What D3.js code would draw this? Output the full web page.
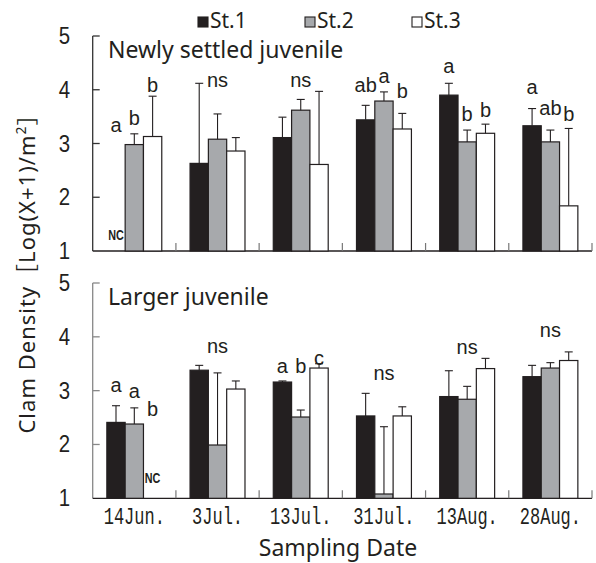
<!DOCTYPE html>
<html><head><meta charset="utf-8">
<script src="https://cdn.jsdelivr.net/npm/d3@7"></script>
<style>body{margin:0;background:#fff}svg{display:block}</style>
</head><body>
<svg id="c" width="596" height="563"></svg>
<script>
// ---------- data ----------
const dates = ["14Jun.", "3Jul.", "13Jul.", "31Jul.", "13Aug.", "28Aug."];
const stations = ["St.1", "St.2", "St.3"];
const yTickValues = [1, 2, 3, 4, 5];

// Newly settled juvenile (null = NC, not collected)
const newlySt1 = [null, 2.63, 3.11, 3.44, 3.90, 3.33];
const newlySt2 = [2.98, 3.08, 3.62, 3.79, 3.03, 3.03];
const newlySt3 = [3.13, 2.86, 2.61, 3.27, 3.19, 1.84];
const newlySt1Err = [null, 1.49, 0.38, 0.27, 0.22, 0.32];
const newlySt2Err = [0.20, 0.47, 0.20, 0.17, 0.22, 0.22];
const newlySt3Err = [0.75, 0.25, 1.36, 0.29, 0.17, 1.44];
const newlyLetters = [["a", "b", "b"], ["ns"], ["ns"], ["ab", "a", "b"], ["a", "b", "b"], ["a", "ab", "b"]];
// level (in Log units) at which each significance letter sits
const newlyLetterLevels = [[3.22, 3.34, 3.96], [4.06], [4.06], [3.96, 4.12, 3.84], [4.32, 3.41, 3.50], [3.93, 3.53, 3.41]];

// Larger juvenile
const largerSt1 = [2.41, 3.38, 3.16, 2.53, 2.89, 3.26];
const largerSt2 = [2.38, 1.99, 2.51, 1.08, 2.84, 3.42];
const largerSt3 = [null, 3.03, 3.42, 2.53, 3.41, 3.56];
const largerSt1Err = [0.31, 0.09, 0.02, 0.42, 0.48, 0.21];
const largerSt2Err = [0.30, 1.34, 0.13, 1.25, 0.24, 0.10];
const largerSt3Err = [null, 0.15, 0.08, 0.17, 0.19, 0.16];
const largerLetters = [["a", "a", "b"], ["ns"], ["a", "b", "c"], ["ns"], ["ns"], ["ns"]];
const largerLetterLevels = [[2.98, 2.86, 2.52], [3.70], [3.32, 3.32, 3.48], [3.20], [3.69], [4.00]];

// ---------- drawing ----------
const svg = d3.select("#c");
const ink = "#231f20";
const fill = d3.scaleOrdinal().domain(stations).range(["#231f20", "#a7a9ac", "#ffffff"]);
const x0 = d3.scaleBand().domain(dates).range([92.7, 592]).paddingInner(0.34).paddingOuter(0.17);
const x1 = d3.scaleBand().domain(stations).range([0, x0.bandwidth()]);
const step = x0.step();
const axisLeft = 92.7;
const sansL = "'Liberation Sans', Arial, sans-serif";
const sansN = "'Noto Sans', 'Liberation Sans', sans-serif";

function panel(yTop, yBot, means, errs, letters, levels, title, axisColor, ncLift) {
  const y = d3.scaleLinear().domain([1, 5]).range([yBot, yTop]);
  const g = svg.append("g");

  // y axis (inward ticks)
  g.append("line").attr("x1", axisLeft).attr("x2", axisLeft).attr("y1", y(5)).attr("y2", y(1))
    .attr("stroke", axisColor).attr("stroke-width", 1.3);
  g.selectAll(".yt").data(yTickValues.filter(d => d > 1)).join("line")
    .attr("x1", axisLeft).attr("x2", axisLeft + 7).attr("y1", d => y(d)).attr("y2", d => y(d))
    .attr("stroke", axisColor).attr("stroke-width", 1.3);
  g.selectAll(".yl").data(yTickValues).join("text")
    .attr("transform", d => `translate(70,${y(d) + 8}) scale(0.85,1)`)
    .attr("text-anchor", "end")
    .attr("font-family", sansL).attr("font-size", 24).attr("fill", ink).text(d => d);

  // x axis
  g.append("line").attr("x1", axisLeft).attr("x2", 592).attr("y1", y(1)).attr("y2", y(1))
    .attr("stroke", ink).attr("stroke-width", 1.3);
  g.selectAll(".xt").data(dates).join("line")
    .attr("x1", d => x0(d) - x0.paddingOuter() * step + step).attr("x2", d => x0(d) - x0.paddingOuter() * step + step)
    .attr("y1", y(1)).attr("y2", y(1) - 8).attr("stroke", "#777").attr("stroke-width", 1.2);

  // bars
  const rows = [];
  dates.forEach((d, i) => stations.forEach((s, j) => rows.push({ date: d, st: s, v: means[j][i], e: errs[j][i], i, j })));
  g.append("g").selectAll("rect").data(rows.filter(r => r.v != null)).join("rect")
    .attr("x", r => x0(r.date) + x1(r.st)).attr("width", x1.bandwidth())
    .attr("y", r => y(r.v)).attr("height", r => y(1) - y(r.v))
    .attr("fill", r => fill(r.st)).attr("stroke", ink).attr("stroke-width", 1.2);

  // error bars
  const eb = g.append("g").attr("stroke", ink).attr("stroke-width", 1.1);
  rows.filter(r => r.v != null).forEach(r => {
    const cx = x0(r.date) + x1(r.st) + x1.bandwidth() / 2;
    eb.append("line").attr("x1", cx).attr("x2", cx).attr("y1", y(r.v)).attr("y2", y(r.v + r.e));
    eb.append("line").attr("x1", cx - 4).attr("x2", cx + 4).attr("y1", y(r.v + r.e)).attr("y2", y(r.v + r.e));
  });

  // NC markers
  rows.filter(r => r.v == null).forEach(r => {
    const cx = x0(r.date) + x1(r.st) + x1.bandwidth() / 2;
    g.append("text").attr("transform", `translate(${cx},${y(1) - ncLift}) scale(0.72,1)`)
      .attr("text-anchor", "middle")
      .attr("font-family", sansL).attr("font-size", 15).attr("font-weight", "bold")
      .attr("fill", ink).text("NC");
  });

  // significance letters
  letters.forEach((ls, i) => {
    const d = dates[i];
    ls.forEach((t, j) => {
      const cx = ls.length === 1 ? x0(d) + x0.bandwidth() / 2 : x0(d) + x1(stations[j]) + x1.bandwidth() / 2;
      g.append("text").attr("x", cx).attr("y", y(levels[i][j]))
        .attr("text-anchor", "middle").attr("font-family", sansL).attr("font-size", 20).attr("fill", ink).text(t);
    });
  });

  // panel title
  g.append("text").attr("x", 108).attr("y", y(5) + 22)
    .attr("font-family", sansN).attr("font-size", 23).attr("fill", ink).text(title);
  return y;
}

panel(36, 251, [newlySt1, newlySt2, newlySt3], [newlySt1Err, newlySt2Err, newlySt3Err], newlyLetters, newlyLetterLevels, "Newly settled juvenile", "#333", 11);
panel(283, 498.3, [largerSt1, largerSt2, largerSt3], [largerSt1Err, largerSt2Err, largerSt3Err], largerLetters, largerLetterLevels, "Larger juvenile", "#888", 15);

// x tick labels
svg.selectAll(".xl").data(dates).join("text")
  .attr("transform", d => `translate(${x0(d) + x0.bandwidth() / 2},524) scale(0.74,1)`)
  .attr("text-anchor", "middle").attr("font-family", "'Liberation Mono', monospace")
  .attr("font-size", 23).attr("fill", ink).text(d => d);

// axis titles
svg.append("text").attr("x", 338).attr("y", 556).attr("text-anchor", "middle")
  .attr("font-family", sansN).attr("font-size", 23).attr("fill", ink).text("Sampling Date");

const yt = svg.append("text").attr("transform", "translate(35,268) rotate(-90)").attr("text-anchor", "middle")
  .attr("font-family", "'Noto Sans', 'Noto Sans CJK JP', sans-serif").attr("font-size", 22)
  .attr("letter-spacing", 1).attr("fill", ink);
yt.append("tspan").text("Clam Density［Log(X+1)/m");
yt.append("tspan").attr("dy", -9).attr("font-size", 14).text("2");
yt.append("tspan").attr("dy", 9).text("］");

// legend
const lg = svg.append("g");
stations.forEach((s, i) => {
  const lx = 198 + i * 107;
  lg.append("rect").attr("x", lx).attr("y", 17).attr("width", 10).attr("height", 10)
    .attr("fill", fill(s)).attr("stroke", ink).attr("stroke-width", 1.1);
  lg.append("text").attr("x", lx + 12).attr("y", 28).attr("font-family", sansN)
    .attr("font-size", 21).attr("fill", ink).text(s);
});
</script>
</body></html>
